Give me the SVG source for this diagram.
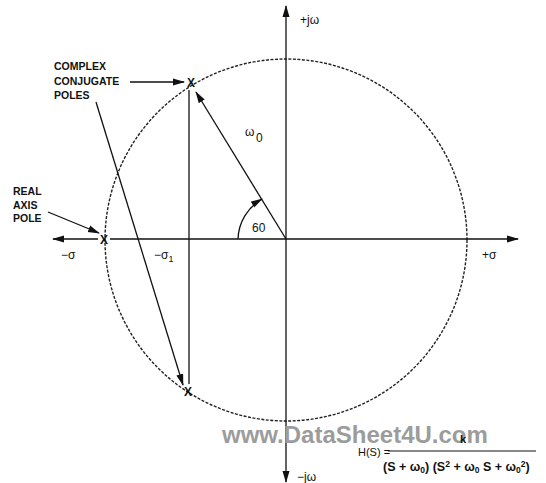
<svg xmlns="http://www.w3.org/2000/svg" width="546" height="483" viewBox="0 0 546 483">
<style>
text{font-family:"Liberation Sans",Arial,sans-serif;fill:#111}
.lbl{font-size:10.5px;font-weight:bold}
.ax{font-size:12px}
.px{font-size:12px;font-weight:bold}
.ln{stroke:#111;stroke-width:1.3;fill:none}
.wm{font-size:24px;font-weight:bold;fill:#9c9c9c}
</style>
<defs>
<marker id="ah" markerWidth="12" markerHeight="8" refX="11" refY="4" orient="auto" markerUnits="userSpaceOnUse">
<path d="M0,0.5 L12,4 L0,7.5 Z" fill="#111"/>
</marker>
</defs>
<rect width="546" height="483" fill="#fff"/>
<g id="circle">
<circle cx="286" cy="240" r="181" fill="none" stroke="#222" stroke-width="1.4" stroke-dasharray="3,1.5"/>
</g>
<g id="connectors">
<line class="ln" x1="286" y1="239" x2="286" y2="6" marker-end="url(#ah)"/>
<line class="ln" x1="286" y1="239" x2="286" y2="482" marker-end="url(#ah)"/>
<line class="ln" x1="110" y1="239" x2="518" y2="239" marker-end="url(#ah)"/>
<line class="ln" x1="98" y1="239" x2="53" y2="239" marker-end="url(#ah)"/>
<line class="ln" x1="189" y1="90" x2="189" y2="384"/>
<line class="ln" x1="286" y1="239" x2="196" y2="92" marker-end="url(#ah)"/>
<path class="ln" d="M238,239 A48,48 0 0 1 262,199" marker-end="url(#ah)"/>
<line class="ln" x1="130" y1="82" x2="184" y2="82" marker-end="url(#ah)"/>
<line class="ln" x1="96" y1="102" x2="183" y2="385" marker-end="url(#ah)"/>
<line class="ln" x1="48" y1="212" x2="99" y2="233" marker-end="url(#ah)"/>
</g>
<g id="upper-pole"><text x="191" y="87" class="px" text-anchor="middle">X</text></g>
<g id="lower-pole"><text x="188" y="396" class="px" text-anchor="middle">X</text></g>
<g id="real-pole"><text x="104" y="244" class="px" text-anchor="middle">X</text></g>
<g id="complex-label">
<text class="lbl" x="54" y="70">COMPLEX</text>
<text class="lbl" x="54" y="85">CONJUGATE</text>
<text class="lbl" x="54" y="99">POLES</text>
</g>
<g id="real-label">
<text class="lbl" x="13" y="195">REAL</text>
<text class="lbl" x="13" y="209">AXIS</text>
<text class="lbl" x="13" y="222">POLE</text>
</g>
<g id="axis-labels">
<text class="ax" x="300" y="24">+jω</text>
<text class="ax" x="297" y="481">−jω</text>
<text class="ax" x="482" y="259">+σ</text>
<text class="ax" x="61" y="259">−σ</text>
<text class="ax" x="154" y="259">−σ<tspan font-size="9" dy="3">1</tspan></text>
<text class="ax" x="245" y="136" font-size="13">ω</text>
<text class="ax" x="256" y="142" font-size="11">0</text>
<text class="ax" x="252" y="232" font-size="11">60</text>
</g>
<g id="watermark"><text class="wm" x="222" y="443">www.DataSheet4U.com</text></g>
<g id="formula">
<text x="358" y="456" font-size="11">H(S) =</text>
<line x1="388" y1="451" x2="536" y2="451" stroke="#111" stroke-width="1.2"/>
<text x="463" y="443" font-size="11" font-weight="bold" text-anchor="middle">k</text>
<text x="383" y="471" font-size="12.5" font-weight="bold">(S + ω<tspan font-size="8.5" dy="2">0</tspan><tspan dy="-2">) (S</tspan><tspan font-size="8.5" dy="-4">2</tspan><tspan dy="4"> + ω</tspan><tspan font-size="8.5" dy="2">0</tspan><tspan dy="-2"> S + ω</tspan><tspan font-size="8.5" dy="2">0</tspan><tspan font-size="8.5" dy="-6">2</tspan><tspan dy="4">)</tspan></text>
</g>
</svg>
